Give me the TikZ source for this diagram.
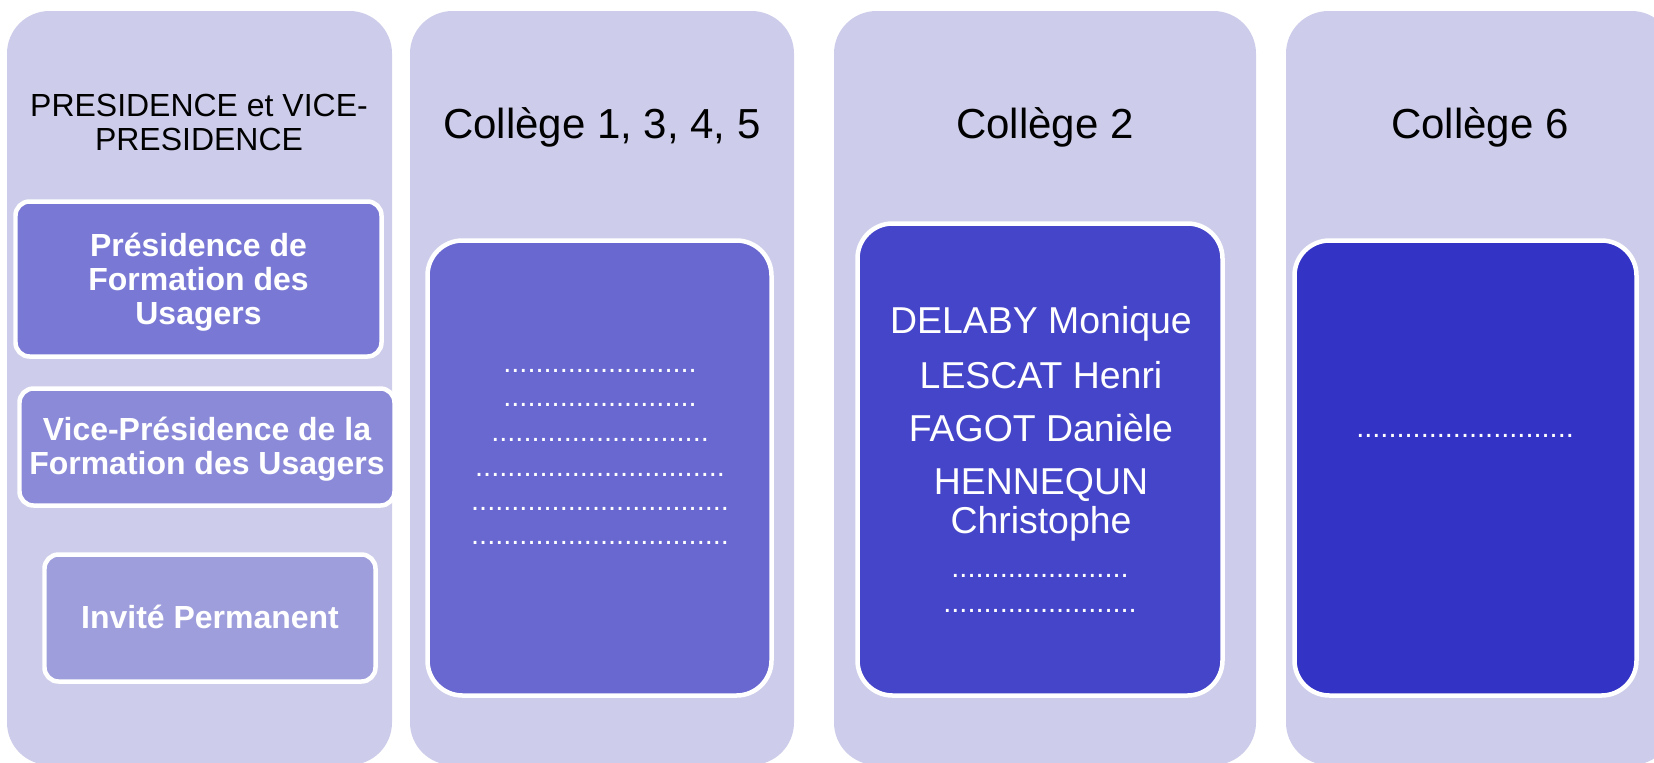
\documentclass[tikz,border=0pt]{standalone}
\usepackage{fontspec}
\setmainfont{Liberation Sans}
\usepackage{tikz}

\definecolor{fondcol}{RGB}{205,205,235}
\definecolor{presid}{RGB}{121,121,213}
\definecolor{vicepresid}{RGB}{138,138,217}
\definecolor{invite}{RGB}{158,158,220}
\definecolor{collA}{RGB}{104,104,208}
\definecolor{collB}{RGB}{69,69,201}
\definecolor{collC}{RGB}{51,51,197}

\newcommand{\pointsrow}[1]{\foreach \i in {1,...,#1}{.}}

\begin{document}
\begin{tikzpicture}[x=0.02cm, y=-0.02cm,
    colonne/.style={fill=fondcol, rounded corners=0.85cm},
    carte/.style={fill=#1, draw=white, line width=0.09cm, rounded corners=0.7cm},
    etiquette/.style={fill=#1, draw=white, line width=0.09cm, rounded corners=0.28cm},
    titre/.style={anchor=base, inner sep=0pt, font=\fontsize{23.9}{28}\selectfont},
    nom/.style={anchor=base, inner sep=0pt, text=white, align=center, font=\fontsize{21.3}{22.1}\selectfont},
    pointilles/.style={anchor=base, inner sep=0pt, text=white, font=\fontsize{16.5}{20}\selectfont},
    gras/.style={align=center, inner sep=0pt, text=white, font=\fontsize{18.2}{19.5}\selectfont\bfseries}]
        \useasboundingbox (0,0) rectangle (1654,762);
        \clip (0,0) rectangle (1654,762);

        % les quatre colonnes
        \path[colonne] (7,11) rectangle (392,765);
        \path[colonne] (410,11) rectangle (794,765);
        \path[colonne] (834,11) rectangle (1256,765);
        \path[colonne] (1286,11) rectangle (1674,765);

        % presidence
        \node[align=center, inner sep=0pt, font=\fontsize{18.2}{19.9}\selectfont] (pres) at (199,122.5) {PRESIDENCE et VICE-\\PRESIDENCE};
        \draw[etiquette=presid] (15.5,201.5) rectangle (381.5,356.5);
        \node[gras] (prfu) at (198.5,282) {Présidence de\\Formation des\\Usagers};
        \draw[etiquette=vicepresid] (19.5,388.5) rectangle (394.5,505.5);
        \node[gras] (vpfu) at (207,449.5) {Vice-Présidence de la\\Formation des Usagers};
        \draw[etiquette=invite] (44.5,554.5) rectangle (375.5,681.5);
        \node[gras] (inv) at (210,617) {Invité Permanent};

        % colleges
        \node[titre] (t1) at (602,138) {Collège 1, 3, 4, 5};
        \node[titre] (t2) at (1045,138) {Collège 2};
        \node[titre] (t6) at (1480,138) {Collège 6};

        \draw[carte=collA] (427.5,240.5) rectangle (771.5,695.5);
        \node[pointilles] (a1) at (600,372) {\pointsrow{24}};
        \node[pointilles] (a2) at (600,406) {\pointsrow{24}};
        \node[pointilles] (a3) at (600,441) {\pointsrow{27}};
        \node[pointilles] (a4) at (600,476) {\pointsrow{31}};
        \node[pointilles] (a5) at (600,510) {\pointsrow{32}};
        \node[pointilles] (a6) at (600,544) {\pointsrow{32}};

        \draw[carte=collB] (857.5,223.5) rectangle (1222.5,695.5);
        \node[nom] (delaby) at (1041,333) {DELABY Monique};
        \node[nom] (lescat) at (1041,388) {LESCAT Henri};
        \node[nom] (fagot) at (1041,441) {FAGOT Danièle};
        \node[nom] (henn) at (1041,533) {HENNEQUN\\Christophe};
        \node[pointilles] (b1) at (1040,577) {\pointsrow{22}};
        \node[pointilles] (b2) at (1040,612) {\pointsrow{24}};

        \draw[carte=collC] (1294.5,240.5) rectangle (1636.5,695.5);
        \node[pointilles] (c1) at (1465,437) {\pointsrow{27}};
    \end{tikzpicture}
\end{document}
